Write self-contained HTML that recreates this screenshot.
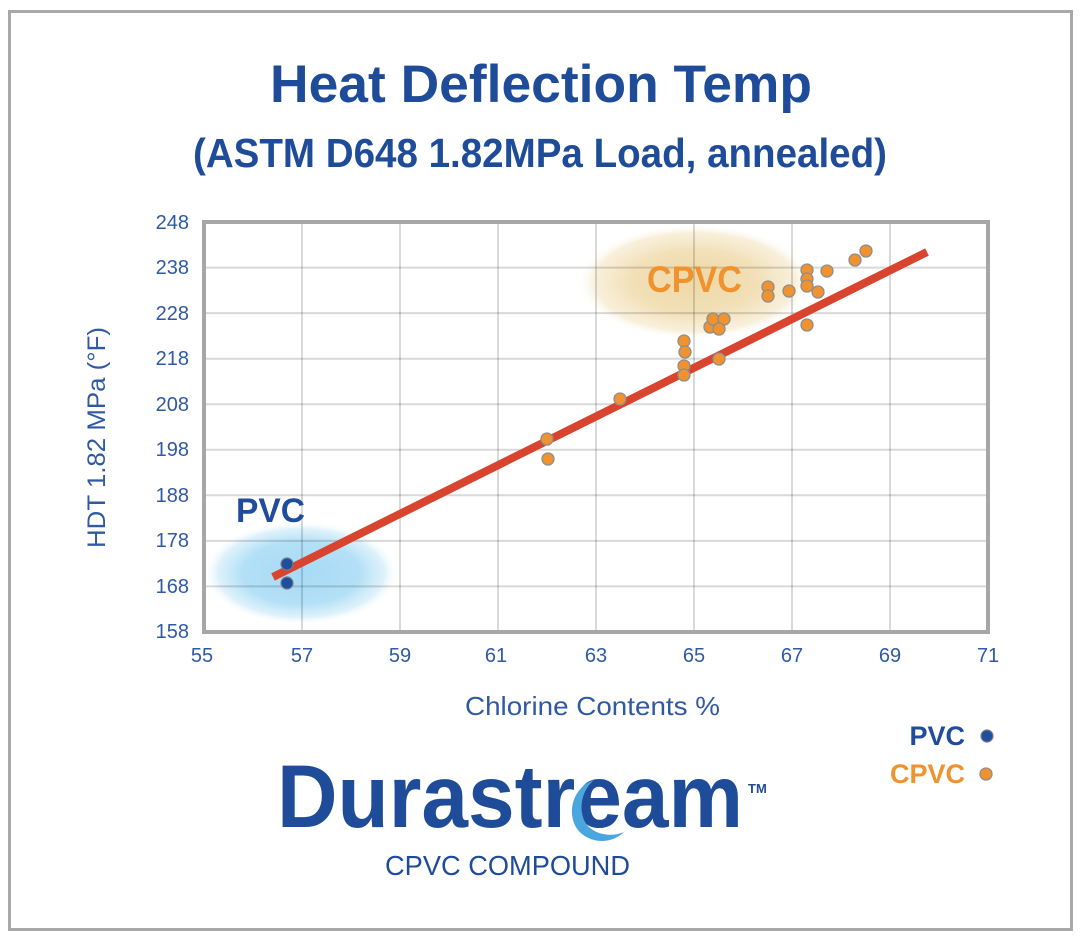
<!DOCTYPE html>
<html><head><meta charset="utf-8"><style>
html,body{margin:0;padding:0;background:#fff;}
svg{display:block;}
</style></head><body>
<svg width="1084" height="942" viewBox="0 0 1084 942" xmlns="http://www.w3.org/2000/svg">
<defs>
<radialGradient id="gb" cx="50%" cy="50%" r="50%">
<stop offset="0" stop-color="#a6daf5"/>
<stop offset="0.6" stop-color="#b3e0f7"/>
<stop offset="0.85" stop-color="#d6eefa" stop-opacity="0.8"/>
<stop offset="1" stop-color="#ffffff" stop-opacity="0"/>
</radialGradient>
<radialGradient id="go" cx="50%" cy="50%" r="50%">
<stop offset="0" stop-color="#efd8a6"/>
<stop offset="0.55" stop-color="#f2e0b8"/>
<stop offset="0.85" stop-color="#f7ecd3" stop-opacity="0.8"/>
<stop offset="1" stop-color="#ffffff" stop-opacity="0"/>
</radialGradient>
</defs>
<rect x="0" y="0" width="1084" height="942" fill="#fff"/>
<rect x="9.5" y="11.5" width="1062" height="918" fill="#fff" stroke="#a9a9a9" stroke-width="3"/>

<!-- Titles -->
<text x="270" y="102" font-family="Liberation Sans, sans-serif" font-weight="bold" font-size="53" fill="#1f4c99" textLength="542" lengthAdjust="spacingAndGlyphs">Heat Deflection Temp</text>
<text x="193" y="167" font-family="Liberation Sans, sans-serif" font-weight="bold" font-size="41" fill="#1f4c99" textLength="694" lengthAdjust="spacingAndGlyphs">(ASTM D648 1.82MPa Load, annealed)</text>

<!-- plot background glows -->
<ellipse cx="301" cy="573" rx="98" ry="52" fill="url(#gb)"/>
<ellipse cx="695" cy="282" rx="118" ry="58" fill="url(#go)"/>

<!-- grid -->
<g stroke="#000" stroke-opacity="0.15" stroke-width="2">
<line x1="302" y1="222" x2="302" y2="632"/>
<line x1="400" y1="222" x2="400" y2="632"/>
<line x1="498" y1="222" x2="498" y2="632"/>
<line x1="596" y1="222" x2="596" y2="632"/>
<line x1="694" y1="222" x2="694" y2="632"/>
<line x1="792" y1="222" x2="792" y2="632"/>
<line x1="890" y1="222" x2="890" y2="632"/>
<line x1="204" y1="267.6" x2="988" y2="267.6"/>
<line x1="204" y1="313.1" x2="988" y2="313.1"/>
<line x1="204" y1="358.7" x2="988" y2="358.7"/>
<line x1="204" y1="404.2" x2="988" y2="404.2"/>
<line x1="204" y1="449.8" x2="988" y2="449.8"/>
<line x1="204" y1="495.3" x2="988" y2="495.3"/>
<line x1="204" y1="540.9" x2="988" y2="540.9"/>
<line x1="204" y1="586.4" x2="988" y2="586.4"/>
</g>
<rect x="204" y="222" width="784" height="410" fill="none" stroke="#a6a6a6" stroke-width="4"/>

<!-- y tick labels -->
<g font-family="Liberation Sans, sans-serif" font-size="20" fill="#2f5aa3" text-anchor="end">
<text x="189" y="229">248</text>
<text x="189" y="274">238</text>
<text x="189" y="320">228</text>
<text x="189" y="365">218</text>
<text x="189" y="411">208</text>
<text x="189" y="456">198</text>
<text x="189" y="502">188</text>
<text x="189" y="547">178</text>
<text x="189" y="593">168</text>
<text x="189" y="638">158</text>
</g>
<!-- x tick labels -->
<g font-family="Liberation Sans, sans-serif" font-size="20" fill="#2f5aa3" text-anchor="middle">
<text x="202" y="662">55</text>
<text x="302" y="662">57</text>
<text x="400" y="662">59</text>
<text x="496" y="662">61</text>
<text x="596" y="662">63</text>
<text x="694" y="662">65</text>
<text x="792" y="662">67</text>
<text x="890" y="662">69</text>
<text x="988" y="662">71</text>
</g>
<!-- axis titles -->
<text x="465" y="715" font-family="Liberation Sans, sans-serif" font-size="26" fill="#2f5aa3" textLength="255" lengthAdjust="spacingAndGlyphs">Chlorine Contents %</text>
<text transform="translate(105,548) rotate(-90)" x="0" y="0" font-family="Liberation Sans, sans-serif" font-size="25" fill="#2f5aa3" textLength="221" lengthAdjust="spacingAndGlyphs">HDT 1.82 MPa (°F)</text>

<!-- group labels -->
<text x="236" y="522" font-family="Liberation Sans, sans-serif" font-weight="bold" font-size="34" fill="#1f4c9c" textLength="69" lengthAdjust="spacingAndGlyphs">PVC</text>
<text x="647" y="292" font-family="Liberation Sans, sans-serif" font-weight="bold" font-size="37" fill="#f0922e" textLength="95" lengthAdjust="spacingAndGlyphs">CPVC</text>

<!-- trend line -->
<line x1="273" y1="577" x2="927" y2="252" stroke="#d9442f" stroke-width="8"/>

<!-- points -->
<g fill="#f0922e" stroke="#8e8e8e" stroke-width="1.3">
<circle cx="547" cy="439" r="6"/>
<circle cx="548" cy="459" r="6"/>
<circle cx="620" cy="399" r="6"/>
<circle cx="684" cy="341" r="6"/>
<circle cx="685" cy="352" r="6"/>
<circle cx="684" cy="366" r="6"/>
<circle cx="684" cy="375" r="6"/>
<circle cx="719" cy="359" r="6"/>
<circle cx="710" cy="327" r="6"/>
<circle cx="713" cy="319" r="6"/>
<circle cx="724" cy="319" r="6"/>
<circle cx="719" cy="329" r="6"/>
<circle cx="768" cy="287" r="6"/>
<circle cx="768" cy="296" r="6"/>
<circle cx="789" cy="291" r="6"/>
<circle cx="807" cy="270" r="6"/>
<circle cx="807" cy="279" r="6"/>
<circle cx="807" cy="286" r="6"/>
<circle cx="818" cy="292" r="6"/>
<circle cx="827" cy="271" r="6"/>
<circle cx="807" cy="325" r="6"/>
<circle cx="855" cy="260" r="6"/>
<circle cx="866" cy="251" r="6"/>
</g>
<g fill="#1f4e9c" stroke="#7a7a8a" stroke-width="1.2">
<circle cx="287" cy="564" r="6"/>
<circle cx="287" cy="583" r="6"/>
</g>

<!-- legend -->
<text x="965" y="745" font-family="Liberation Sans, sans-serif" font-weight="bold" font-size="27" fill="#1f4c9c" text-anchor="end">PVC</text>
<circle cx="987" cy="736" r="6" fill="#1f4e9c" stroke="#7a7a8a" stroke-width="1.2"/>
<text x="965" y="783" font-family="Liberation Sans, sans-serif" font-weight="bold" font-size="27" fill="#f0922e" text-anchor="end">CPVC</text>
<circle cx="986" cy="774" r="6" fill="#f0922e" stroke="#8e8e8e" stroke-width="1.3"/>

<!-- logo -->
<text x="277" y="827" font-family="Liberation Sans, sans-serif" font-weight="bold" font-size="89" fill="#1f4c99" textLength="466" lengthAdjust="spacingAndGlyphs">Durastream</text>
<path d="M 594 780 C 570 788 565 820 582 834 C 596 845 614 842 624 832 C 610 838 592 834 585 822 C 578 808 582 790 594 780 Z" fill="#4aa6de"/>
<text x="748" y="793" font-family="Liberation Sans, sans-serif" font-weight="bold" font-size="13" fill="#1f4c99">TM</text>
<text x="385" y="875" font-family="Liberation Sans, sans-serif" font-size="28" fill="#1f4c99" textLength="245" lengthAdjust="spacingAndGlyphs">CPVC COMPOUND</text>
</svg>
</body></html>
